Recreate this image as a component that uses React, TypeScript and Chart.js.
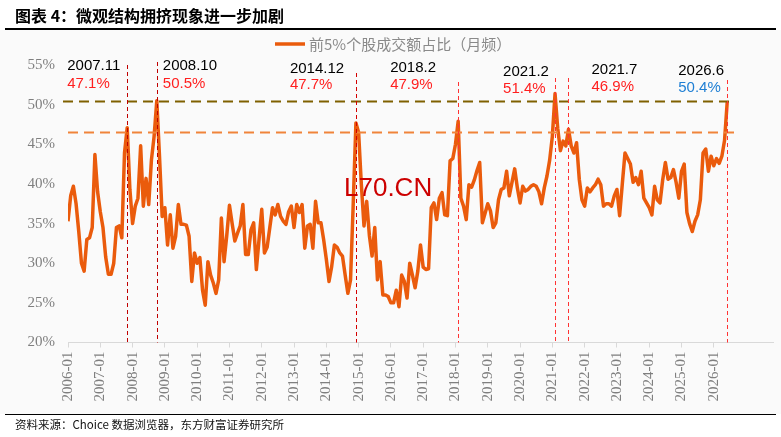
import React, { useEffect, useRef } from 'react';
import { Chart, registerables } from 'chart.js';

Chart.register(...registerables);

// ---------- data ----------
const tickLabels = [
  '2006-01', '2007-01', '2008-01', '2009-01', '2010-01', '2011-01', '2012-01',
  '2013-01', '2014-01', '2015-01', '2016-01', '2017-01', '2018-01', '2019-01',
  '2020-01', '2021-01', '2022-01', '2023-01', '2024-01', '2025-01', '2026-01',
];
const tickIndex = [0, 12, 24, 36, 48, 60, 72, 84, 96, 108, 120, 132, 144, 156, 168, 180, 192, 204, 216, 228, 240];

const v2006 = [35.3, 38.5, 39.7, 37.5, 34.0, 30.0, 29.0, 33.0, 33.2, 34.5, 43.7, 39.0];
const v2007 = [36.5, 34.5, 30.8, 28.6, 28.6, 30.0, 34.5, 34.7, 33.2, 43.9, 47.1, 39.3];
const v2008 = [35.0, 37.2, 38.2, 44.8, 37.2, 40.7, 37.4, 43.0, 46.0, 50.5, 43.5, 35.9];
const v2009 = [37.0, 32.3, 36.1, 31.9, 33.4, 37.4, 34.9, 34.9, 34.8, 33.4, 27.7, 31.3];
const v2010 = [30.0, 30.7, 26.6, 24.7, 30.2, 28.5, 27.5, 26.2, 27.9, 35.7, 30.2, 33.5];
const v2011 = [37.3, 35.0, 32.8, 33.8, 34.7, 37.4, 31.1, 31.1, 34.2, 35.1, 29.2, 33.0];
const v2012 = [36.8, 31.3, 32.0, 34.5, 37.0, 36.1, 37.4, 35.9, 35.3, 34.9, 36.5, 37.2];
const v2013 = [34.5, 37.4, 36.4, 37.4, 31.9, 34.7, 34.9, 31.9, 37.8, 35.1, 35.1, 33.0];
const v2014 = [30.5, 27.7, 29.6, 32.3, 32.0, 31.3, 30.9, 28.5, 26.2, 27.9, 37.5, 47.7];
const v2015 = [46.5, 40.0, 34.7, 37.8, 33.5, 30.9, 34.5, 27.9, 30.2, 26.0, 26.0, 25.8];
const v2016 = [25.0, 25.0, 26.6, 24.5, 28.5, 27.7, 25.6, 30.0, 28.5, 26.9, 29.0, 32.3];
const v2017 = [29.5, 29.2, 29.3, 37.0, 37.6, 35.5, 38.2, 38.9, 36.1, 36.0, 42.9, 43.2];
const v2018 = [45.0, 47.9, 38.2, 37.2, 35.5, 39.9, 39.6, 40.5, 41.7, 42.7, 35.1, 36.3];
const v2019 = [37.5, 36.6, 34.5, 35.1, 38.0, 39.3, 39.5, 41.6, 38.5, 40.2, 41.9, 39.5];
const v2020 = [37.6, 39.7, 39.1, 39.3, 39.7, 39.9, 39.7, 39.0, 37.5, 39.5, 41.0, 43.0];
const v2021 = [46.0, 51.4, 47.0, 44.2, 45.4, 44.8, 46.9, 44.8, 43.9, 45.2, 40.6, 38.0];
const v2022 = [37.2, 39.5, 39.0, 39.5, 39.9, 40.6, 39.9, 37.2, 37.5, 37.5, 37.2, 38.5];
const v2023 = [39.3, 36.0, 40.0, 43.9, 43.2, 42.5, 40.2, 40.8, 39.9, 41.6, 38.2, 37.6];
const v2024 = [37.0, 36.1, 39.7, 38.0, 37.6, 40.5, 42.7, 40.6, 40.8, 41.8, 40.2, 38.2];
const v2025 = [41.6, 42.5, 36.4, 35.0, 34.0, 35.3, 36.1, 38.0, 43.9, 44.4, 41.6, 43.5];
const v2026 = [42.3, 43.2, 42.6, 43.5, 45.5, 50.4];

const seriesName = '前5%个股成交额占比（月频）';

const eventLabels = ['2007.11', '2008.10', '2014.12', '2018.2', '2021.2', '2021.7', '2026.6'];
const eventIndex = [22, 33, 107, 145, 181, 186, 245];
const eventValues = ['47.1%', '50.5%', '47.7%', '47.9%', '51.4%', '46.9%', '50.4%'];
const refHigh = 50.4;
const refMid = 46.5;

// ---------- layout / style ----------
const eventTextDx = [-60, 6, -66, -68, -52, 23, -49];
const eventTextY = [66, 66, 69, 68, 72, 70, 71];
const eventPctY = [84, 84, 85, 85, 89, 87, 88];
const eventLineTop = [65, 62, 73, 82, 78, 78, 80];
const eventLineColor = ['#c00000', '#c00000', '#d40000', '#ff3333', '#ff3333', '#ff3333', '#ff3333'];
const eventPctColor = ['#ff1f1f', '#ff1f1f', '#ff1f1f', '#ff1f1f', '#ff1f1f', '#ff1f1f', '#1f7fd4'];
const lineColor = '#ea5b0c';

const App = () => {
  const ref = useRef<HTMLCanvasElement | null>(null);

  useEffect(() => {
    const values = [
      ...v2006, ...v2007, ...v2008, ...v2009, ...v2010, ...v2011, ...v2012,
      ...v2013, ...v2014, ...v2015, ...v2016, ...v2017, ...v2018, ...v2019,
      ...v2020, ...v2021, ...v2022, ...v2023, ...v2024, ...v2025, ...v2026,
    ];
    const points = values.map((v, i) => ({ x: i, y: v }));
    const lastIdx = values.length - 1;

    const overlay = {
      id: 'overlay',
      afterDatasetsDraw(chart: any) {
        const ctx = chart.ctx;
        const xs = chart.scales.x;
        const ys = chart.scales.y;
        const ca = chart.chartArea;
        ctx.save();
        // horizontal reference lines
        ctx.setLineDash([10, 6]);
        ctx.lineWidth = 2;
        let y = ys.getPixelForValue(refHigh);
        ctx.strokeStyle = '#7f6000';
        ctx.beginPath();
        ctx.moveTo(ca.left - 5, y);
        ctx.lineTo(xs.getPixelForValue(lastIdx) + 4, y);
        ctx.stroke();
        y = ys.getPixelForValue(refMid);
        ctx.strokeStyle = '#f0843a';
        ctx.beginPath();
        ctx.moveTo(ca.left, y);
        ctx.lineTo(xs.getPixelForValue(lastIdx) + 10, y);
        ctx.stroke();
        // vertical event lines
        ctx.setLineDash([4, 3]);
        ctx.lineWidth = 1;
        eventIndex.forEach((idx, k) => {
          const x = Math.round(xs.getPixelForValue(idx)) + 0.5;
          ctx.strokeStyle = eventLineColor[k];
          ctx.beginPath();
          ctx.moveTo(x, eventLineTop[k]);
          ctx.lineTo(x, ca.bottom);
          ctx.stroke();
        });
        ctx.setLineDash([]);
        // event texts
        ctx.font = '15px "Liberation Sans", Arial, sans-serif';
        ctx.textBaseline = 'middle';
        ctx.textAlign = 'left';
        eventIndex.forEach((idx, k) => {
          const x = xs.getPixelForValue(idx) + eventTextDx[k];
          ctx.fillStyle = '#000000';
          ctx.fillText(eventLabels[k], x, eventTextY[k]);
          ctx.fillStyle = eventPctColor[k];
          ctx.fillText(eventValues[k], x, eventPctY[k]);
        });
        // watermark
        ctx.font = '26px "Liberation Sans", Arial, sans-serif';
        ctx.fillStyle = '#cc0000';
        ctx.fillText('L70.CN', 344, 189);
        // legend
        ctx.strokeStyle = lineColor;
        ctx.lineWidth = 3.5;
        ctx.beginPath();
        ctx.moveTo(275, 44);
        ctx.lineTo(305, 44);
        ctx.stroke();
        ctx.font = '15px "Noto Sans CJK SC", sans-serif';
        ctx.fillStyle = '#8a8a8a';
        ctx.fillText(seriesName, 309, 44);
        ctx.restore();
      },
    };

    const chart = new Chart(ref.current as HTMLCanvasElement, {
      type: 'line',
      data: {
        datasets: [
          {
            label: seriesName,
            data: points,
            borderColor: lineColor,
            borderWidth: 3.5,
            borderJoinStyle: 'round',
            pointRadius: 0,
            tension: 0,
            fill: false,
          },
        ],
      },
      options: {
        responsive: false,
        animation: false,
        devicePixelRatio: 1,
        layout: { padding: { top: 65, right: 8, left: 0, bottom: 0 } },
        plugins: { legend: { display: false }, tooltip: { enabled: false } },
        scales: {
          x: {
            type: 'linear',
            min: 0,
            max: 262,
            afterBuildTicks: (s: any) => {
              s.ticks = tickIndex.map((v) => ({ value: v }));
            },
            afterFit: (s: any) => {
              s.height = 94.5;
            },
            ticks: {
              autoSkip: false,
              minRotation: 90,
              maxRotation: 90,
              padding: 4,
              color: '#7f7f7f',
              font: { family: '"Liberation Serif", "Times New Roman", serif', size: 15 },
              callback: (_v: any, i: number) => tickLabels[i],
            },
            grid: { drawOnChartArea: false, drawTicks: true, tickLength: 5, color: '#d9d9d9' },
            border: { color: '#d9d9d9', width: 1 },
          },
          y: {
            min: 20,
            max: 55,
            afterFit: (s: any) => {
              s.width = 68;
            },
            ticks: {
              stepSize: 5,
              padding: 13,
              color: '#7f7f7f',
              font: { family: '"Liberation Serif", "Times New Roman", serif', size: 15 },
              callback: (v: any) => v + '%',
            },
            grid: { display: false, drawTicks: false },
            border: { display: false },
          },
        },
      },
      plugins: [overlay],
    } as any);
    return () => chart.destroy();
  }, []);

  return (
    <div style={{ position: 'fixed', left: 0, top: 0, width: 781, height: 437, background: '#ffffff', overflow: 'hidden' }}>
      <div style={{ position: 'absolute', left: 0, top: 30, width: 781, height: 384, background: '#fafafa' }} />
      <canvas ref={ref} width={781} height={437} style={{ position: 'absolute', left: 0, top: 0 }} />
      <div
        style={{
          position: 'absolute', left: 15, top: 5, fontFamily: '"Noto Sans CJK SC", sans-serif',
          fontWeight: 700, fontSize: 16, lineHeight: '20px', color: '#000', whiteSpace: 'nowrap',
        }}
      >
        图表 4：微观结构拥挤现象进一步加剧
      </div>
      <div style={{ position: 'absolute', left: 5, top: 28, width: 771, height: 1.5, background: '#000' }} />
      <div style={{ position: 'absolute', left: 5, top: 414, width: 771, height: 1.2, background: '#000' }} />
      <div
        style={{
          position: 'absolute', left: 15, top: 417, fontFamily: '"Noto Sans CJK SC", sans-serif',
          fontSize: 11.5, lineHeight: '14px', color: '#111', whiteSpace: 'nowrap',
        }}
      >
        资料来源：Choice 数据浏览器，东方财富证券研究所
      </div>
    </div>
  );
};

export default App;
